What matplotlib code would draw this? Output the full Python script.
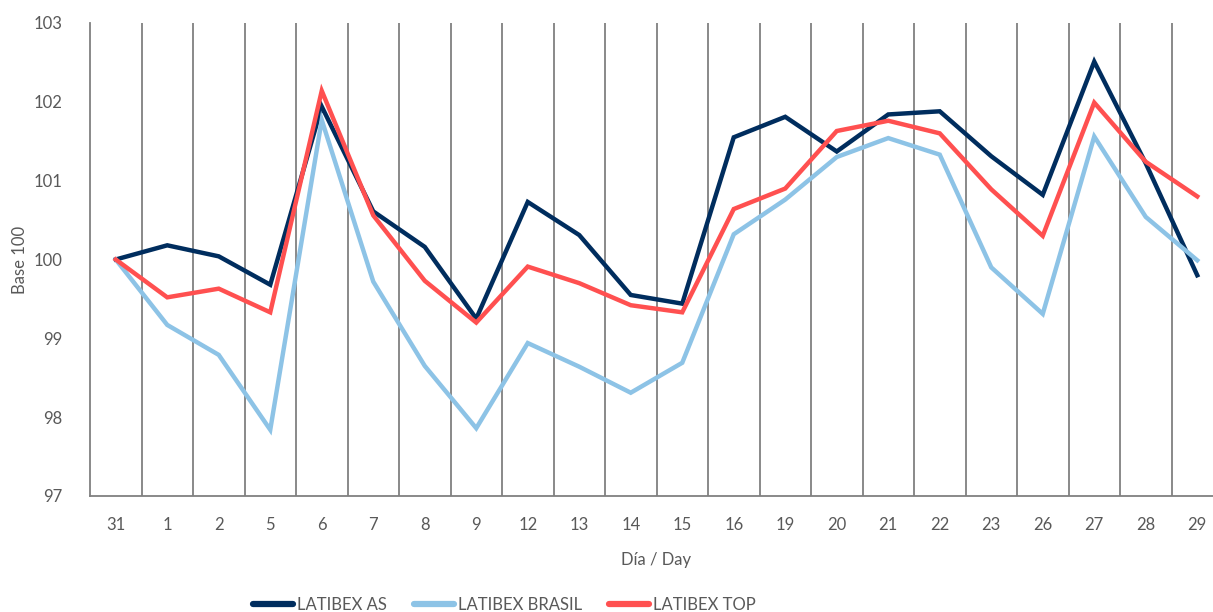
import numpy as np
import matplotlib
matplotlib.use("Agg")
import matplotlib.pyplot as plt

plt.rcParams['font.family'] = ['Lato', 'DejaVu Sans']

dias = ['31', '1', '2', '5', '6', '7', '8', '9', '12', '13', '14', '15',
        '16', '19', '20', '21', '22', '23', '26', '27', '28', '29']

latibex_as = [100.00, 100.18, 100.04, 99.68, 101.94, 100.61, 100.16, 99.25,
              100.73, 100.31, 99.55, 99.44, 101.55, 101.81, 101.37, 101.84,
              101.88, 101.31, 100.82, 102.51, 101.22, 99.80]
latibex_brasil = [100.00, 99.17, 98.79, 97.84, 101.77, 99.72, 98.65, 97.86,
                  98.94, 98.64, 98.31, 98.69, 100.32, 100.76, 101.30, 101.54,
                  101.33, 99.90, 99.31, 101.56, 100.54, 99.99]
latibex_top = [100.00, 99.52, 99.63, 99.33, 102.14, 100.56, 99.73, 99.20,
               99.91, 99.70, 99.42, 99.33, 100.64, 100.90, 101.63, 101.76,
               101.60, 100.89, 100.30, 101.99, 101.24, 100.80]

gris = '#595959'
fig = plt.figure(figsize=(12.13, 6.12), dpi=100)
# axes run past the right edge, like the cropped original
ax = fig.add_axes([90 / 1213, 116 / 612, 1133 / 1213, 473 / 612])

x = np.arange(len(dias))
ax.plot(x, latibex_as, color='#002D5E', lw=3.2, label='LATIBEX AS', solid_joinstyle='miter')
ax.plot(x, latibex_brasil, color='#8DC3E6', lw=3.2, label='LATIBEX BRASIL', solid_joinstyle='miter')
ax.plot(x, latibex_top, color='#FF5050', lw=3.2, label='LATIBEX TOP', solid_joinstyle='miter')

ax.set_xlim(-0.5, len(dias) - 0.5)
ax.set_ylim(97, 103)
ax.set_yticks(range(97, 104))
ax.set_xticks(x)
ax.set_xticklabels(dias)
ax.set_xticks(x[:-1] + 0.5, minor=True)
ax.grid(which='minor', axis='x', color='#808080', lw=1.3)
ax.tick_params(which='both', length=0, labelsize=12, colors=gris)
ax.tick_params(axis='x', pad=15)
ax.tick_params(axis='y', pad=20)

for s in ['top', 'right']:
    ax.spines[s].set_visible(False)
for s in ['left', 'bottom']:
    ax.spines[s].set_color('#808080')
    ax.spines[s].set_linewidth(1.3)

ax.set_xlabel('Día / Day', fontsize=12, color=gris, labelpad=14)
ax.set_ylabel('Base 100', fontsize=12, color=gris, labelpad=4)

leg = fig.legend(loc='center', bbox_to_anchor=(0.416, 0.012), ncol=3, frameon=False,
                 fontsize=12, handlelength=2.4, handletextpad=0.25, columnspacing=1.6)
for t in leg.get_texts():
    t.set_color(gris)
for h in leg.get_lines():
    h.set_linewidth(4.5)
    h.set_solid_capstyle('round')

fig.savefig('out.png', dpi=100)
